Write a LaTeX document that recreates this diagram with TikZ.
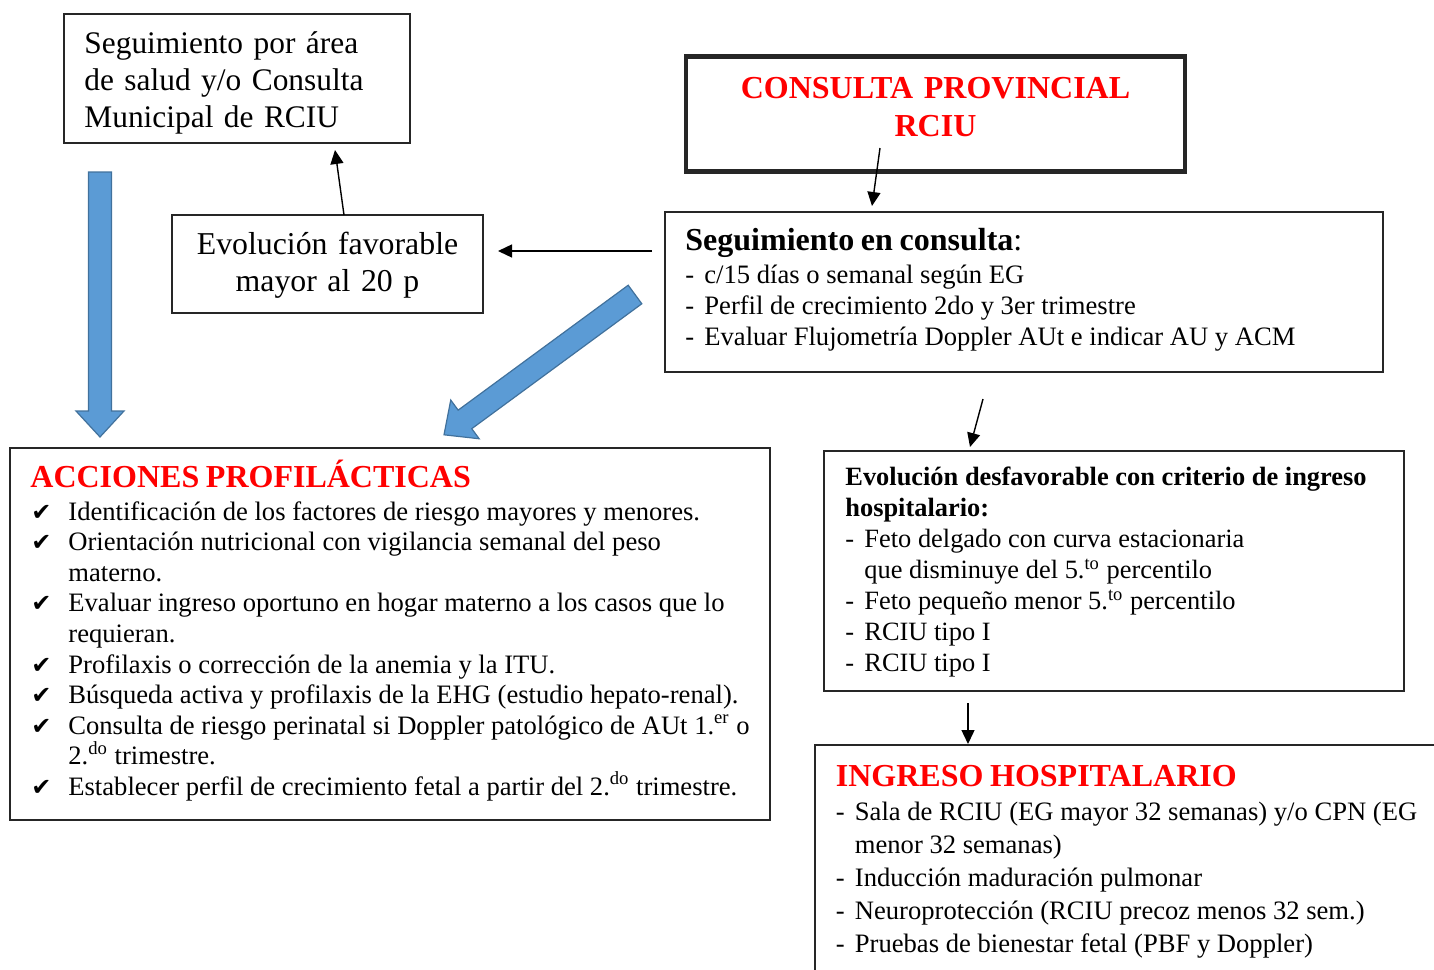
\documentclass[tikz,border=0pt]{standalone}
\usepackage{fontspec}
\setmainfont{Liberation Serif}
\newfontfamily\simbolos{DejaVu Sans}
\usetikzlibrary{arrows.meta}

\definecolor{azul}{HTML}{5B9BD5}
\definecolor{azulborde}{HTML}{41719C}
\definecolor{rojo}{HTML}{FF0000}

\newcommand{\guion}[1]{\par\hangindent=9.5pt\hangafter=1\noindent\makebox[9.5pt][l]{-}#1}
\newcommand{\marca}[1]{\par\hangindent=19pt\hangafter=1\noindent\makebox[19pt][l]{\hspace{0.5pt}{\simbolos\fontsize{12pt}{12pt}\selectfont ✔}}#1}
\newcommand{\flechaazul}[3]{\draw[bloque, shift={#1}, rotate=#2] (0,-11.5) -- ({#3-26},-11.5) -- ({#3-26},-24) -- (#3,0) -- ({#3-26},24) -- ({#3-26},11.5) -- (0,11.5) -- cycle;}

\begin{document}
\begin{tikzpicture}[x=0.5pt, y=-0.5pt,
    caja/.style={draw=black!85, line width=0.6pt, inner sep=0pt, outer sep=0pt, anchor=north west},
    texto/.style={inner sep=0pt, anchor=base west, align=left},
    flecha/.style={line width=0.7pt, -{Triangle[length=7pt, width=6.5pt]}},
    bloque/.style={fill=azul, draw=azulborde, line width=0.6pt}]
        \useasboundingbox (0,0) rectangle (1434,969);
        \clip (0,0) rectangle (1434,969);

        \node[caja, minimum width=173pt, minimum height=64.5pt] (area) at (64,14) {};
        \node[texto, text width=165pt, font=\fontsize{15.7pt}{18.5pt}\selectfont] (areatxt) at (84,53)
            {Seguimiento por área\\de salud y/o Consulta\\Municipal de RCIU};

        \node[caja, line width=2.25pt, minimum width=249.5pt, minimum height=57.5pt] (prov) at (686,56.5) {};
        \node[texto, anchor=base, align=center, text width=240pt, text=rojo,
            font=\fontsize{16pt}{19pt}\selectfont\bfseries] (provtxt) at (935.5,98) {CONSULTA PROVINCIAL\\RCIU};

        \node[caja, minimum width=155.5pt, minimum height=49pt] (fav) at (172,215) {};
        \node[texto, anchor=base, align=center, text width=150pt, font=\fontsize{15.9pt}{18.5pt}\selectfont] (favtxt)
            at (327.5,254) {Evolución favorable\\mayor al 20 p};

        \node[caja, minimum width=359pt, minimum height=80pt] (seg) at (665,212) {};
        \node[texto, text width=345pt] (segtxt) at (685,250)
            {{\fontsize{16pt}{16pt}\selectfont\textbf{Seguimiento en consulta}:}\par\vspace{1pt}
            \fontsize{13.3pt}{15.5pt}\selectfont
            \guion{c/15 días o semanal según EG}
            \guion{Perfil de crecimiento 2do y 3er trimestre}
            \guion{Evaluar Flujometría Doppler AUt e indicar AU y ACM}\par};

        \node[caja, minimum width=380pt, minimum height=186pt] (acc) at (10,448) {};
        \node[texto, text width=372pt] (acctxt) at (30,487)
            {{\fontsize{16pt}{16pt}\selectfont\bfseries\color{rojo}ACCIONES PROFILÁCTICAS}\par\vspace{1.2pt}
            \fontsize{13.3pt}{15.3pt}\selectfont
            \marca{Identificación de los factores de riesgo mayores y menores.}
            \marca{Orientación nutricional con vigilancia semanal del peso\newline materno.}
            \marca{Evaluar ingreso oportuno en hogar materno a los casos que lo\newline requieran.}
            \marca{Profilaxis o corrección de la anemia y la ITU.}
            \marca{Búsqueda activa y profilaxis de la EHG (estudio hepato-renal).}
            \marca{Consulta de riesgo perinatal si Doppler patológico de AUt 1.\textsuperscript{er} o\newline 2.\textsuperscript{do} trimestre.}
            \marca{Establecer perfil de crecimiento fetal a partir del 2.\textsuperscript{do} trimestre.}\par};

        \node[caja, minimum width=290pt, minimum height=120pt] (desf) at (824,451) {};
        \node[texto, text width=285pt] (desftxt) at (845,485)
            {\fontsize{13.2pt}{15.5pt}\selectfont
            \textbf{Evolución desfavorable con criterio de ingreso\newline hospitalario:}
            \guion{Feto delgado con curva estacionaria\newline que disminuye del 5.\textsuperscript{to} percentilo}
            \guion{Feto pequeño menor 5.\textsuperscript{to} percentilo}
            \guion{RCIU tipo I}
            \guion{RCIU tipo I}\par};

        \node[caja, minimum width=350pt, minimum height=150pt] (ingr) at (815,745) {};
        \node[texto, text width=320pt] (ingrtxt) at (835.5,786)
            {{\fontsize{16pt}{16pt}\selectfont\bfseries\color{rojo}INGRESO HOSPITALARIO}\par\vspace{0.4pt}
            \fontsize{13.3pt}{16.6pt}\selectfont
            \guion{Sala de RCIU (EG mayor 32 semanas) y/o CPN (EG\newline menor 32 semanas)}
            \guion{Inducción maduración pulmonar}
            \guion{Neuroprotección (RCIU precoz menos 32 sem.)}
            \guion{Pruebas de bienestar fetal (PBF y Doppler)}\par};

        \draw[flecha] ([shift={(-55.5,-23.5)}]prov.south) -- ([shift={(-152,-6)}]seg.north);
        \draw[flecha] ([shift={(-13,-41)}]seg.west) -- ([shift={(15,-13)}]fav.east);
        \draw[flecha] ([shift={(16.5,0)}]fav.north) -- ([shift={(98,7)}]area.south);
        \draw[flecha] ([shift={(-41,27)}]seg.south) -- ([shift={(-144,-4)}]desf.north);
        \draw[flecha] ([shift={(-146,12)}]desf.south) -- ([shift={(153,-1)}]ingr.north west);

        \flechaazul{(100,172)}{-90}{265}
        \flechaazul{(635,294.5)}{216.3}{237}
    \end{tikzpicture}
\end{document}
